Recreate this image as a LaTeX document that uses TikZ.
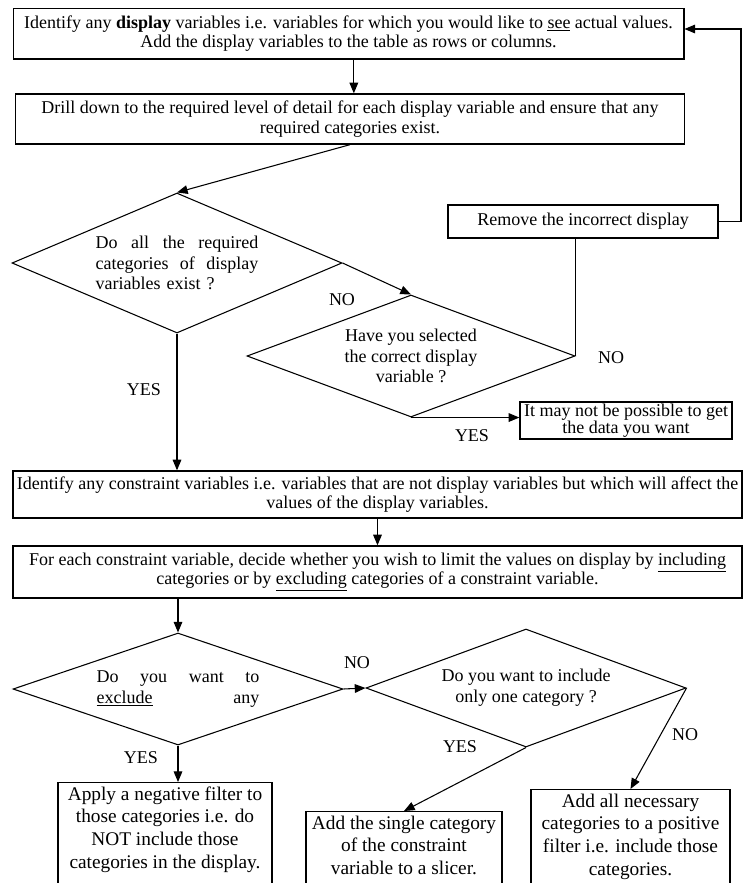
\documentclass[tikz,border=0pt]{standalone}
\usepackage{fontspec}
\setmainfont{Liberation Serif}
\usetikzlibrary{shapes.geometric,arrows.meta}

\tikzset{
	stepbox/.style={draw, line width=1pt, rectangle, align=center, inner sep=1pt, font=\fontsize{13.5}{14.5}\selectfont},
	lowbox/.style={draw, line width=1pt, rectangle, align=center, anchor=north, inner xsep=1pt, inner ysep=3pt, font=\fontsize{14.5}{17}\selectfont},
	question/.style={draw, diamond, inner sep=0pt, font=\fontsize{13.5}{15.5}\selectfont},
	answer/.style={inner sep=0pt, font=\fontsize{13.5}{14.5}\selectfont},
}

\begin{document}
\begin{tikzpicture}[x=0.75pt, y=-0.75pt, line width=0.8pt, >={Triangle[length=8pt,width=6.5pt]}]

	\clip (0,0) rectangle (751,883);

	    \node[stepbox, minimum width=503pt, minimum height=38pt] (box1) at (348.5,33.5)
	    	{Identify any \textbf{display} variables i.e. variables for which you would like to \underline{see} actual values.\\
	    	Add the display variables to the table as rows or columns.};
	    \node[stepbox, minimum width=502pt, minimum height=37.5pt] (box2) at (350,119)
	    	{Drill down to the required level of detail for each display variable and ensure that any\\
	    	required categories exist.};
	    \node[stepbox, minimum width=202.5pt, minimum height=24.75pt] (remove) at (583,221.5)
	    	{Remove the incorrect display};

	    \node[question, aspect=2.36, minimum width=247.5pt, minimum height=105pt, text width=122pt, align=left] (d1) at (177,263)
	    	{Do\hfill all\hfill the\hfill required\\ categories\hfill of\hfill display\\ variables exist ?};
	    \node[question, aspect=2.7, minimum width=246pt, minimum height=91.5pt, align=center] (d2) at (411,356)
	    	{Have you selected\\ the correct display\\ variable ?};
	    \node[stepbox, minimum width=159pt, minimum height=27.75pt, font=\fontsize{13.5}{12.5}\selectfont] (maynot) at (626,420.5)
	    	{It may not be possible to get\\ the data you want};

	    \node[stepbox, minimum width=546.75pt, minimum height=35.25pt] (box3) at (377.5,494.5)
	    	{Identify any constraint variables i.e. variables that are not display variables but which will affect the\\
	    	values of the display variables.};
	    \node[stepbox, minimum width=546.75pt, minimum height=39pt] (box4) at (377.5,572)
	    	{For each constraint variable, decide whether you wish to limit the values on display by \underline{including}\\
	    	categories or by \underline{excluding} categories of a constraint variable.};

	    \node[question, aspect=2.95, minimum width=247.5pt, minimum height=84pt, text width=122pt, align=left] (d3) at (178,689)
	    	{Do\hfill you\hfill want\hfill to\\ \underline{exclude}\hfill any};
	    \node[question, aspect=2.7, minimum width=240pt, minimum height=88.5pt, align=center] (d4) at (526,688)
	    	{Do you want to include\\ only one category ?};

	    \node[lowbox, minimum width=160.5pt] (apply) at (165,782)
	    	{Apply a negative filter to\\ those categories i.e. do\\ NOT include those\\ categories in the display.\\ \strut};
	    \node[lowbox, minimum width=147pt] (slicer) at (404,811)
	    	{Add the single category\\ of the constraint\\ variable to a slicer.\\ \strut};
	    \node[lowbox, minimum width=149.25pt] (positive) at (630.5,789)
	    	{Add all necessary\\ categories to a positive\\ filter i.e. include those\\ categories.\\ \strut};

	    \node[answer] (no1) at (342,300) {NO};
	    \node[answer] (no2) at (611,358) {NO};
	    \node[answer] (yes1) at (144,390) {YES};
	    \node[answer] (yes2) at (472,436) {YES};
	    \node[answer] (no3) at (357,663) {NO};
	    \node[answer] (no4) at (685,735) {NO};
	    \node[answer] (yes3) at (460,747) {YES};
	    \node[answer] (yes4) at (141,758) {YES};

	    \coordinate (ret) at (741,29);

	    \draw[->] ([xshift=4pt]box1.south) -- ([xshift=4pt]box1.south |- box2.north);
	    \draw[->] (box2.south) -- (d1.north);
	    \draw[->] (d1.east) -- (d2.north);
	    \draw (d2.east) -- (d2.east |- remove.south);
	    \draw[->] (remove.east) -| (ret) -- (ret -| box1.east);
	    \draw[->] (d2.south) -- (d2.south -| maynot.west);
	    \draw[->] (d1.south) -- (d1.south |- box3.north);
	    \draw[->] (box3.south) -- (box4.north);
	    \draw[->] (box4.south -| d3.north) -- (d3.north);
	    \draw[->] (d3.east) -- (d4.west);
	    \draw[->] (d3.south) -- (d3.south |- apply.north);
	    \draw[->] (d4.south) -- (slicer.north);
	    \draw[->] (d4.east) -- (positive.north);

\end{tikzpicture}
\end{document}
